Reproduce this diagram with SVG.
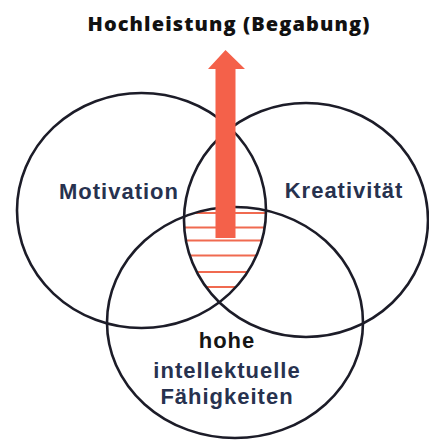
<svg xmlns="http://www.w3.org/2000/svg" width="429" height="440" viewBox="0 0 429 440">
<style>
.c{fill:none;stroke:#1c1c28;stroke-width:2.6}
.h{stroke:#f06a50;stroke-width:2}
.lbl{font-family:"Liberation Sans",Arial,sans-serif;font-weight:bold;font-size:22px;fill:#27324f;letter-spacing:1px;text-anchor:middle}
.title{font-family:"Open Sans","Liberation Sans",sans-serif;font-weight:800;font-size:20px;fill:#111;letter-spacing:1.1px;text-anchor:middle}
</style>
<defs>
<clipPath id="cl"><ellipse cx="141.5" cy="210.5" rx="124.5" ry="117.5"/></clipPath>
<clipPath id="cr"><ellipse cx="306" cy="220" rx="122" ry="117"/></clipPath>
<clipPath id="cb"><ellipse cx="235" cy="322.5" rx="128" ry="115.5"/></clipPath>
</defs>
<rect width="429" height="440" fill="#fff"/>
<text class="title" x="229" y="31">Hochleistung (Begabung)</text>
<g id="hatch" clip-path="url(#cb)"><g clip-path="url(#cr)"><g clip-path="url(#cl)">
<line class="h" x1="170" y1="213" x2="280" y2="213"/>
<line class="h" x1="170" y1="227.5" x2="280" y2="227.5"/>
<line class="h" x1="170" y1="240.5" x2="280" y2="240.5"/>
<line class="h" x1="170" y1="255.5" x2="280" y2="255.5"/>
<line class="h" x1="170" y1="272" x2="280" y2="272"/>
<line class="h" x1="170" y1="287" x2="280" y2="287"/>
</g></g></g>
<g id="motivation"><ellipse class="c" cx="141.5" cy="210.5" rx="124.5" ry="117.5"/><text class="lbl" x="119" y="199">Motivation</text></g>
<g id="kreativitaet"><ellipse class="c" cx="306" cy="220" rx="122" ry="117"/><text class="lbl" x="344" y="198">Kreativität</text></g>
<g id="faehigkeiten"><ellipse class="c" cx="235" cy="322.5" rx="128" ry="115.5"/>
<text class="lbl" x="227" y="348" style="fill:#151515">hohe</text>
<text class="lbl" x="227" y="378">intellektuelle</text>
<text class="lbl" x="227" y="404">Fähigkeiten</text></g>
<g id="connectors"><path id="arrow" d="M215.5 238 V69 H208 L225.5 50 L245 69 H235.5 V238 Z" fill="#f4614a"/></g>
</svg>
